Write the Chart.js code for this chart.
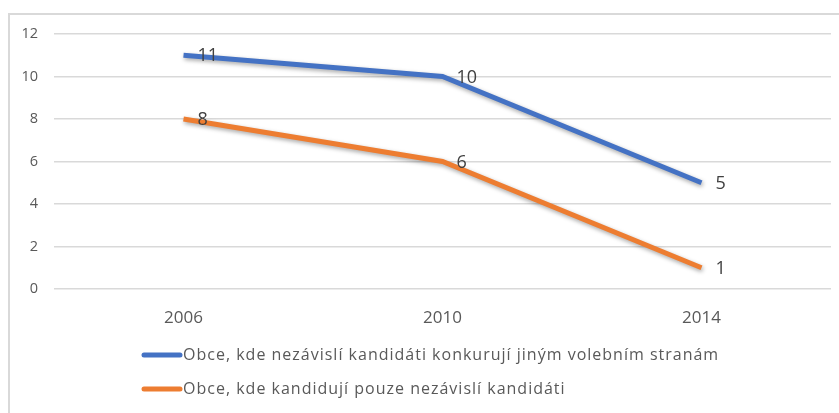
<!DOCTYPE html>
<html>
<head>
<meta charset="utf-8">
<script src="https://cdn.jsdelivr.net/npm/chart.js@4/dist/chart.umd.min.js"></script>
<style>
  html, body { margin: 0; padding: 0; background: #fff; }
  #wrap { position: relative; width: 839px; height: 413px; }
</style>
</head>
<body>
<div id="wrap"><canvas id="c" width="839" height="413"></canvas></div>
<script>
'use strict';

var years = ['2006', '2010', '2014'];
var competing = [11, 10, 5];
var onlyIndependent = [8, 6, 1];
var seriesNames = [
    'Obce, kde nezávislí kandidáti konkurují jiným volebním stranám',
    'Obce, kde kandidují pouze nezávislí kandidáti'
];
var seriesColors = ['#4472C4', '#ED7D31'];

var FONT = '"Open Sans", "Noto Sans", sans-serif';

// frame, line shadows, value labels and the legend drawn by hand
var decor = {
    id: 'decor',
    beforeDraw: function (chart) {
        var ctx = chart.ctx;
        ctx.save();
        ctx.strokeStyle = '#d9d9d9';
        ctx.lineWidth = 2;
        ctx.beginPath();
        ctx.moveTo(9, 413);
        ctx.lineTo(9, 14);
        ctx.lineTo(839, 14);
        ctx.stroke();
        ctx.restore();
    },
    beforeDatasetDraw: function (chart) {
        var ctx = chart.ctx;
        ctx.save();
        ctx.shadowColor = 'rgba(0,0,0,0.35)';
        ctx.shadowBlur = 4;
        ctx.shadowOffsetX = 1;
        ctx.shadowOffsetY = 2;
    },
    afterDatasetDraw: function (chart) {
        chart.ctx.restore();
    },
    afterDraw: function (chart) {
        var ctx = chart.ctx;
        ctx.save();
        ctx.font = '18px ' + FONT;
        ctx.fillStyle = '#404040';
        ctx.textBaseline = 'middle';
        ctx.textAlign = 'left';
        chart.data.datasets.forEach(function (ds, i) {
            chart.getDatasetMeta(i).data.forEach(function (pt, j) {
                ctx.fillText(String(ds.data[j]), pt.x + 14, pt.y + 1);
            });
        });

        ctx.font = '16px ' + FONT;
        ctx.letterSpacing = '1px';
        ctx.fillStyle = '#595959';
        ctx.lineCap = 'round';
        ctx.lineWidth = 5;
        var rows = [355, 389];
        seriesNames.forEach(function (name, i) {
            ctx.strokeStyle = seriesColors[i];
            ctx.beginPath();
            ctx.moveTo(144, rows[i]);
            ctx.lineTo(180, rows[i]);
            ctx.stroke();
            ctx.fillText(name, 183, rows[i]);
        });
        ctx.restore();
    }
};

new Chart(document.getElementById('c'), {
    type: 'line',
    data: {
        labels: years,
        datasets: [
            {
                label: seriesNames[0],
                data: competing,
                borderColor: seriesColors[0],
                backgroundColor: seriesColors[0],
                borderWidth: 5,
                pointRadius: 0,
                tension: 0
            },
            {
                label: seriesNames[1],
                data: onlyIndependent,
                borderColor: seriesColors[1],
                backgroundColor: seriesColors[1],
                borderWidth: 5,
                pointRadius: 0,
                tension: 0
            }
        ]
    },
    options: {
        responsive: false,
        animation: false,
        layout: { padding: { left: 0, top: 34, right: 8, bottom: 80 } },
        plugins: {
            legend: { display: false },
            tooltip: { enabled: false }
        },
        scales: {
            x: {
                offset: true,
                grid: { display: false, drawTicks: false },
                border: { display: false },
                ticks: { color: '#595959', font: { family: FONT, size: 17 }, padding: 19 },
                afterFit: function (s) { s.height = 44; }
            },
            y: {
                min: 0,
                max: 12,
                ticks: { stepSize: 2, color: '#595959', font: { family: FONT, size: 14.5 }, padding: 16 },
                grid: { color: '#d9d9d9', lineWidth: 1.5, drawTicks: false },
                border: { display: false },
                afterFit: function (s) { s.width = 54; }
            }
        }
    },
    plugins: [decor]
});
</script>
</body>
</html>
